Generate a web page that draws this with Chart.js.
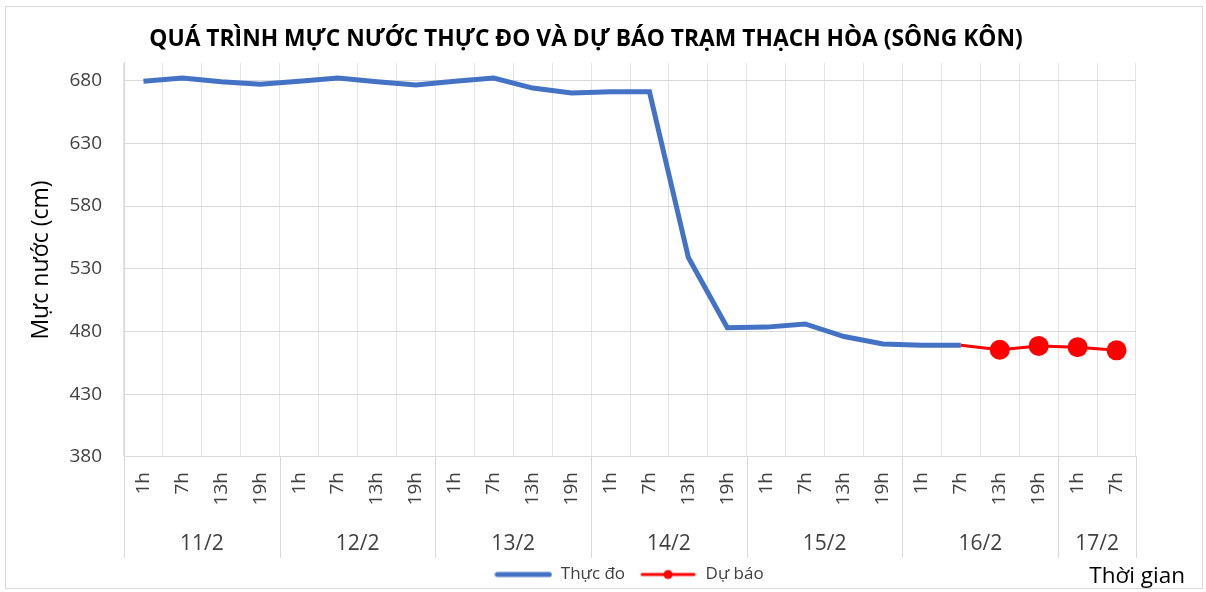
<!DOCTYPE html>
<html>
<head>
<meta charset="utf-8">
<title>Mực nước Thạch Hòa</title>
<script src="https://cdn.jsdelivr.net/npm/chart.js@4"></script>
<style>
    body { margin: 0; background: #fff; }
    #wrap { position: relative; width: 1206px; height: 592px; }
</style>
</head>
<body>
<div id="wrap"><canvas id="levelChart"></canvas></div>
<script>
// ---- data ----
const hourLabels = ['1h', '7h', '13h', '19h', '1h', '7h', '13h', '19h', '1h', '7h', '13h', '19h',
    '1h', '7h', '13h', '19h', '1h', '7h', '13h', '19h', '1h', '7h', '13h', '19h', '1h', '7h'];
const dayGroups = ['11/2', '12/2', '13/2', '14/2', '15/2', '16/2', '17/2'];
const daySizes = [4, 4, 4, 4, 4, 4, 2];
const observed = [679.5, 682, 679, 677, 679.5, 682, 679, 676.5, 679.5, 682, 674, 670,
    671, 671, 539, 483, 483.5, 486, 476, 470, 469, 469, null, null, null, null];
const forecast = [null, null, null, null, null, null, null, null, null, null, null, null,
    null, null, null, null, null, null, null, null, null, 469, 465.5, 468.5, 467.5, 465];
const yTicks = [380, 430, 480, 530, 580, 630, 680];

const FONT = "'Open Sans', 'Noto Sans', sans-serif";
const BLUE = '#4472C4';
const RED = '#FF0000';
const TEXT = '#404040';

/**
 * Small canvas used as legend symbol (line, optional dot)
 */
function legendSymbol(color, lineWidth, withDot) {
    const c = document.createElement('canvas');
    c.width = 58;
    c.height = 14;
    const g = c.getContext('2d');
    g.strokeStyle = color;
    g.lineWidth = lineWidth;
    g.lineCap = 'round';
    g.beginPath();
    g.moveTo(3, 7);
    g.lineTo(55, 7);
    g.stroke();
    if (withDot) {
        g.fillStyle = color;
        g.beginPath();
        g.arc(29, 7, 4.5, 0, Math.PI * 2);
        g.fill();
    }
    return c;
}

// move the legend to where the original sits (a bit right of centre)
const legendShift = {
    id: 'legendShift',
    afterLayout(chart) {
        chart.legend.left += 43;
        chart.legend.right += 43;
        chart.legend.top -= 6;
        chart.legend.bottom -= 6;
    }
};

// group labels, separators, axis caption and frame
const axisExtras = {
    id: 'axisExtras',
    afterDraw(chart) {
        const ctx = chart.ctx;
        const x = chart.scales.x;
        const half = (x.getPixelForValue(1) - x.getPixelForValue(0)) / 2;
        const top = x.top;
        const bottom = x.top + 101;
        ctx.save();
        ctx.strokeStyle = '#d9d9d9';
        ctx.lineWidth = 1;
        ctx.font = '21px ' + FONT;
        ctx.fillStyle = TEXT;
        ctx.textAlign = 'center';
        ctx.textBaseline = 'middle';
        let idx = 0;
        const edges = [x.getPixelForValue(0) - half];
        dayGroups.forEach((d, i) => {
            const first = idx;
            idx += daySizes[i];
            const left = x.getPixelForValue(first) - half;
            const right = x.getPixelForValue(idx - 1) + half;
            edges.push(right);
            ctx.fillText(d, (left + right) / 2, top + 87);
        });
        edges.forEach(e => {
            const px = Math.round(e) + 0.5;
            ctx.beginPath();
            ctx.moveTo(px, top);
            ctx.lineTo(px, bottom);
            ctx.stroke();
        });
        // axis caption
        ctx.fillStyle = '#000';
        ctx.font = '22.5px ' + FONT;
        ctx.textAlign = 'right';
        ctx.textBaseline = 'alphabetic';
        ctx.fillText('Thời gian', 1185, 583);
        // outer frame
        ctx.strokeStyle = '#d9d9d9';
        ctx.strokeRect(5.5, 6.5, 1197, 582);
        ctx.restore();
    }
};

const chart = new Chart(document.getElementById('levelChart'), {
    type: 'line',
    data: {
        labels: hourLabels,
        datasets: [{
            label: 'Thực đo',
            data: observed,
            borderColor: BLUE,
            backgroundColor: BLUE,
            borderWidth: 5,
            pointRadius: 0,
            tension: 0,
            order: 2
        }, {
            label: 'Dự báo',
            data: forecast,
            borderColor: RED,
            backgroundColor: RED,
            borderWidth: 3,
            pointRadius: forecast.map((v, i) => (v === null || i === 21) ? 0 : 10),
            pointBorderWidth: 0,
            tension: 0,
            order: 1
        }]
    },
    options: {
        responsive: true,
        maintainAspectRatio: false,
        animation: false,
        layout: { padding: { left: 0, right: 34, top: 0, bottom: -7 } },
        plugins: {
            title: {
                display: true,
                text: 'QUÁ TRÌNH MỰC NƯỚC THỰC ĐO VÀ DỰ BÁO TRẠM THẠCH HÒA (SÔNG KÔN)',
                color: '#000',
                font: { family: FONT, size: 22.8, weight: 'bold' },
                padding: { top: 26.3, bottom: 9.3 }
            },
            legend: {
                position: 'bottom',
                labels: {
                    usePointStyle: true,
                    pointStyleWidth: 58,
                    color: TEXT,
                    font: { family: FONT, size: 17 },
                    padding: 14,
                    generateLabels: function() {
                        return [
                            { text: 'Thực đo', pointStyle: legendSymbol(BLUE, 5, false), fontColor: TEXT, datasetIndex: 0, lineWidth: 0 },
                            { text: 'Dự báo', pointStyle: legendSymbol(RED, 3, true), fontColor: TEXT, datasetIndex: 1, lineWidth: 0 }
                        ];
                    }
                }
            },
            tooltip: { enabled: false }
        },
        scales: {
            x: {
                offset: true,
                grid: {
                    offset: true,
                    color: '#e3e3e3',
                    drawTicks: false
                },
                border: { color: '#d9d9d9' },
                ticks: {
                    autoSkip: false,
                    maxRotation: 90,
                    minRotation: 90,
                    padding: 15,
                    color: TEXT,
                    font: { family: FONT, size: 19 }
                },
                afterFit: function(scale) { scale.height = 101; }
            },
            y: {
                min: 380,
                max: 694,
                grid: { color: '#d9d9d9', drawTicks: false },
                border: { color: '#d9d9d9' },
                ticks: {
                    stepSize: 50,
                    padding: 22,
                    color: TEXT,
                    font: { family: FONT, size: 19 }
                },
                afterBuildTicks: function(scale) {
                    scale.ticks = yTicks.map(v => ({ value: v }));
                },
                title: {
                    display: true,
                    text: 'Mực nước (cm)',
                    color: '#000',
                    font: { family: FONT, size: 23 },
                    padding: { top: 28, bottom: 0 }
                },
                afterFit: function(scale) { scale.width = 124; }
            },
            yRight: {
                position: 'right',
                grid: { display: false },
                border: { display: false },
                ticks: { display: false },
                afterFit: function(scale) { scale.width = 36; }
            }
        }
    },
    plugins: [legendShift, axisExtras]
});
</script>
</body>
</html>
